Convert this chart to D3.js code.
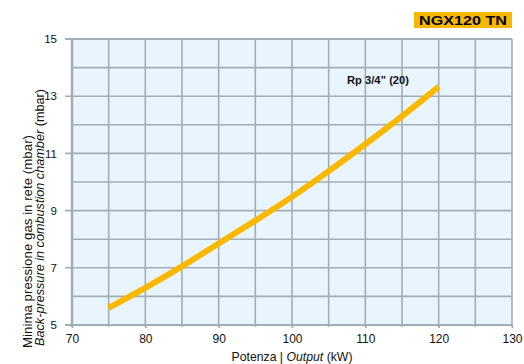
<!DOCTYPE html>
<html><head><meta charset="utf-8">
<script src="https://cdn.jsdelivr.net/npm/d3@7"></script>
<style>body{margin:0;background:#fff;} svg{display:block;} text{font-family:"Liberation Sans",Arial,sans-serif;}</style>
</head><body>
<svg id="c" width="524" height="364"></svg>
<script>
const title = "NGX120 TN";
const seriesLabel = "Rp 3/4\u201D (20)";
const outputKW = [75, 80, 85, 90, 95, 100, 105, 110, 115, 120];
const pressure = [5.6, 6.3, 7.05, 7.85, 8.65, 9.48, 10.38, 11.32, 12.3, 13.33];
const xTicks = [70, 80, 90, 100, 110, 120, 130];
const yTicks = [5, 7, 9, 11, 13, 15];

const svg = d3.select("#c");
const x = d3.scaleLinear().domain([70, 130]).range([72, 512]);
const y = d3.scaleLinear().domain([5, 15]).range([325, 39]);
const grid = "#a2adb5";

svg.append("rect").attr("x", x(70)).attr("y", y(15)).attr("width", x(130) - x(70)).attr("height", y(5) - y(15)).attr("fill", "#e9f5fd");

svg.append("g").selectAll("line").data(d3.range(70, 131, 5)).join("line")
  .attr("x1", d => x(d)).attr("x2", d => x(d)).attr("y1", y(15)).attr("y2", y(5) + 2)
  .attr("stroke", grid).attr("stroke-width", d => (d === 70 ? 2.5 : 1.6));
svg.append("g").selectAll("line").data(d3.range(5, 15.01, 1)).join("line")
  .attr("x1", d => (yTicks.includes(d) ? 65 : x(70))).attr("x2", x(130)).attr("y1", d => y(d)).attr("y2", d => y(d))
  .attr("stroke", grid).attr("stroke-width", d => (d === 5 || d === 15 ? 2.2 : 1.6));

const xa = svg.append("g").attr("transform", `translate(0,${y(5)})`)
  .call(d3.axisBottom(x).tickValues(xTicks).tickSize(3).tickPadding(6));
xa.select(".domain").remove();
xa.selectAll("line").attr("stroke", grid).attr("stroke-width", 1.6);
xa.selectAll("text").attr("font-size", 12).attr("fill", "#111").attr("font-family", "Liberation Sans, Arial, sans-serif");

const ya = svg.append("g").attr("transform", `translate(65,0)`)
  .call(d3.axisLeft(y).tickValues(yTicks).tickSize(0).tickPadding(8));
ya.select(".domain").remove();
ya.selectAll("text").attr("font-size", 11.5).attr("fill", "#111").attr("font-family", "Liberation Sans, Arial, sans-serif");

const xt = svg.append("text").attr("x", 292).attr("y", 361).attr("text-anchor", "middle").attr("font-size", 13).attr("fill", "#111")
  .attr("textLength", 121).attr("lengthAdjust", "spacingAndGlyphs");
xt.append("tspan").text("Potenza | ");
xt.append("tspan").attr("font-style", "italic").text("Output");
xt.append("tspan").text(" (kW)");

svg.append("text").attr("transform", "translate(31.5,348) rotate(-90)").attr("font-size", 12).attr("fill", "#111")
  .attr("textLength", 213).attr("lengthAdjust", "spacingAndGlyphs").text("Minima pressione gas in rete (mbar)");
const y2 = svg.append("text").attr("transform", "translate(44,346) rotate(-90)").attr("font-size", 12).attr("fill", "#111")
  .attr("textLength", 257).attr("lengthAdjust", "spacingAndGlyphs");
y2.append("tspan").attr("font-style", "italic").text("Back-pressure in combustion chamber");
y2.append("tspan").text(" (mbar)");

const pts = outputKW.map((k, i) => [k, pressure[i]]);
svg.append("path").datum(pts)
  .attr("d", d3.line().x(d => x(d[0])).y(d => y(d[1])).curve(d3.curveNatural))
  .attr("fill", "none").attr("stroke", "#fbb800").attr("stroke-width", 6).attr("stroke-linecap", "butt");

svg.append("text").attr("x", 347).attr("y", 84).attr("font-size", 11).attr("font-weight", "bold").attr("fill", "#111")
  .attr("textLength", 62).attr("lengthAdjust", "spacingAndGlyphs").text(seriesLabel);

svg.append("rect").attr("x", 414).attr("y", 12).attr("width", 98).attr("height", 16).attr("fill", "#f9b800");
svg.append("text").attr("x", 463).attr("y", 25).attr("text-anchor", "middle").attr("font-size", 13.5).attr("font-weight", "bold").attr("fill", "#000")
  .attr("textLength", 88).attr("lengthAdjust", "spacingAndGlyphs").text(title);
</script>
</body></html>
